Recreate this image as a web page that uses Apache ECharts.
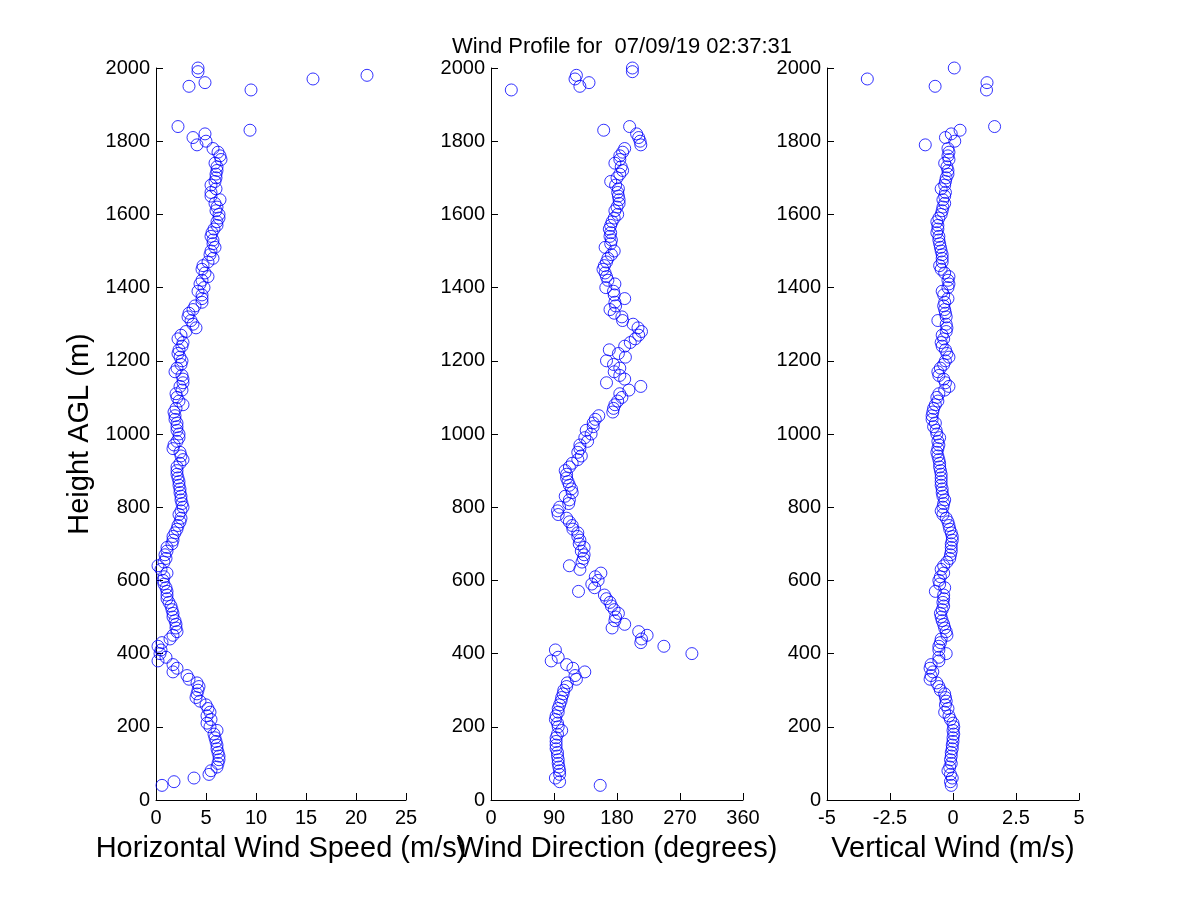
<!DOCTYPE html>
<html>
<head>
<meta charset="utf-8">
<script src="https://cdn.jsdelivr.net/npm/echarts@6/dist/echarts.min.js"></script>
<style>
  html, body { margin: 0; padding: 0; background: #fff; }
  #chart { width: 1200px; height: 900px; }
</style>
</head>
<body>
<div id="chart"></div>
<script>
// heights (m AGL), shared by all three panels
var heights = [
  40, 50, 60, 70, 80, 90,
  100, 110, 120, 130, 140, 150, 160, 170, 180, 190,
  200, 210, 220, 230, 240, 250, 260, 270, 280, 290,
  300, 310, 320, 330, 340, 350, 360, 370, 380, 390,
  400, 410, 420, 430, 440, 450, 460, 470, 480, 490,
  500, 510, 520, 530, 540, 550, 560, 570, 580, 590,
  600, 610, 620, 630, 640, 650, 660, 670, 680, 690,
  700, 710, 720, 730, 740, 750, 760, 770, 780, 790,
  800, 810, 820, 830, 840, 850, 860, 870, 880, 890,
  900, 910, 920, 930, 940, 950, 960, 970, 980, 990,
  1000, 1010, 1020, 1030, 1040, 1050, 1060, 1070, 1080, 1090,
  1100, 1110, 1120, 1130, 1140, 1150, 1160, 1170, 1180, 1190,
  1200, 1210, 1220, 1230, 1240, 1250, 1260, 1270, 1280, 1290,
  1300, 1310, 1320, 1330, 1340, 1350, 1360, 1370, 1380, 1390,
  1400, 1410, 1420, 1430, 1440, 1450, 1460, 1470, 1480, 1490,
  1500, 1510, 1520, 1530, 1540, 1550, 1560, 1570, 1580, 1590,
  1600, 1610, 1620, 1630, 1640, 1650, 1660, 1670, 1680, 1690,
  1700, 1710, 1720, 1730, 1740, 1750, 1760, 1770, 1780, 1790,
  1800, 1810, 1820, 1830, 1840,
  1940, 1950, 1960, 1970, 1980, 1990, 2000
];

// horizontal wind speed (m/s)
var windSpeed = [
  0.6, 1.8, 3.8, 5.3, 5.5, 6.1,
  6.2, 6.3, 6.3, 6.2, 6.1, 6.1, 6.0, 5.9, 5.8, 6.1,
  5.4, 5.1, 5.5, 5.1, 5.4, 5.2, 5.0, 4.4, 4.0, 4.1,
  4.2, 4.3, 4.1, 3.3, 3.1, 1.7, 2.1, 1.7, 0.2, 1.0,
  0.4, 0.5, 0.2, 0.6, 1.4, 1.7, 2.1, 2.0, 2.0, 1.9,
  1.7, 1.7, 1.6, 1.5, 1.3, 1.1, 1.1, 1.1, 1.0, 0.8,
  0.7, 0.8, 1.1, 0.5, 0.2, 0.8, 1.0, 0.9, 1.1, 1.1,
  1.6, 1.7, 1.7, 1.9, 2.1, 2.2, 2.4, 2.5, 2.3, 2.5,
  2.7, 2.6, 2.5, 2.5, 2.4, 2.4, 2.3, 2.3, 2.2, 2.1,
  2.1, 2.1, 2.4, 2.7, 2.5, 2.4, 1.7, 1.8, 2.1, 2.3,
  2.3, 2.1, 2.1, 2.1, 1.9, 1.9, 1.8, 2.0, 2.7, 2.3,
  2.1, 2.0, 2.6, 2.4, 2.7, 2.7, 2.6, 1.9, 2.1, 2.5,
  2.6, 2.4, 2.2, 2.3, 2.6, 2.7, 2.2, 2.5, 3.0, 4.0,
  3.7, 3.5, 3.2, 3.3, 3.7, 3.9, 4.6, 4.6, 4.6, 4.2,
  4.8, 4.4, 4.6, 5.2, 4.9, 4.6, 4.7, 5.2, 5.7, 5.4,
  5.5, 5.9, 5.7, 5.7, 5.5, 5.6, 5.8, 6.1, 6.1, 6.3,
  6.3, 6.0, 6.1, 5.9, 6.4, 5.5, 5.5, 6.0, 5.5, 5.9,
  6.0, 6.0, 6.1, 6.1, 5.9, 6.5, 6.4, 6.2, 5.7, 4.1,
  5.0, 3.7, 4.9, 9.4, 2.2,
  9.5, 3.3, 4.9, 15.7, 21.1, 4.2, 4.2
];

// wind direction (degrees)
var windDir = [
  156, 98, 92, 98, 98, 97,
  96, 96, 95, 95, 93, 93, 93, 93, 95, 101,
  96, 95, 92, 93, 96, 96, 98, 100, 101, 103,
  104, 108, 109, 122, 120, 134, 117, 108, 86, 96,
  287, 92, 247, 214, 215, 223, 211, 173, 191, 177,
  178, 182, 176, 172, 170, 165, 162, 125, 148, 144,
  153, 149, 157, 127, 112, 130, 132, 133, 129, 133,
  126, 127, 124, 124, 117, 116, 112, 108, 96, 95,
  98, 111, 112, 106, 116, 115, 112, 110, 108, 108,
  106, 112, 116, 124, 129, 124, 127, 127, 138, 134,
  143, 136, 146, 146, 149, 154, 174, 175, 177, 181,
  187, 184, 197, 214, 165, 191, 184, 176, 184, 175,
  165, 192, 182, 169, 191, 199, 206, 211, 215, 210,
  203, 188, 187, 176, 170, 178, 177, 191, 176, 175,
  164, 177, 167, 165, 163, 160, 162, 165, 167, 172,
  176, 163, 171, 172, 170, 171, 169, 171, 173, 176,
  181, 177, 180, 183, 183, 182, 181, 182, 178, 171,
  180, 184, 188, 186, 177, 184, 184, 188, 191, 214,
  213, 211, 208, 161, 198,
  29, 127, 140, 120, 122, 202, 202
];

// vertical wind (m/s), null = not drawn
var vertWind = [
  -0.07, -0.1, -0.03, -0.1, -0.2, -0.13,
  -0.07, -0.1, -0.07, -0.07, -0.03, -0.03, 0, 0, 0.03, 0,
  0.03, 0, -0.1, -0.16, -0.33, -0.2, -0.3, -0.27, -0.3, -0.33,
  -0.5, -0.56, -0.64, -0.91, -0.87, -0.8, -0.91, -0.87, -0.56, -0.56,
  -0.27, -0.56, -0.56, -0.5, -0.47, -0.24, -0.27, -0.33, -0.37, -0.43,
  -0.47, -0.5, -0.43, -0.37, -0.4, -0.37, -0.37, -0.7, -0.33, -0.53,
  -0.56, -0.5, -0.37, -0.47, -0.37, -0.24, -0.13, -0.1, -0.07, -0.07,
  -0.07, -0.03, -0.03, -0.07, -0.13, -0.16, -0.2, -0.27, -0.4, -0.47,
  -0.4, -0.37, -0.33, -0.4, -0.43, -0.43, -0.47, -0.47, -0.47, -0.47,
  -0.5, -0.53, -0.53, -0.56, -0.6, -0.64, -0.6, -0.56, -0.6, -0.53,
  -0.64, -0.67, -0.77, -0.7, -0.83, -0.83, -0.8, -0.77, -0.7, -0.6,
  -0.64, -0.56, -0.33, -0.16, -0.3, -0.37, -0.56, -0.6, -0.5, -0.37,
  -0.3, -0.16, -0.24, -0.3, -0.43, -0.47, -0.37, -0.43, -0.27, -0.24,
  -0.27, -0.6, -0.27, -0.3, -0.33, -0.37, -0.33, -0.2, -0.37, -0.43,
  -0.2, -0.16, -0.2, -0.16, -0.33, -0.47, -0.53, -0.43, -0.43, -0.43,
  -0.47, -0.5, -0.53, -0.56, -0.56, -0.64, -0.6, -0.6, -0.64, -0.56,
  -0.47, -0.43, -0.4, -0.33, -0.4, -0.33, -0.3, -0.47, -0.33, -0.3,
  -0.27, -0.2, -0.2, -0.24, -0.33, -0.16, -0.2, -0.16, -0.2, -1.1,
  0.07, -0.3, -0.07, 0.28, 1.65,
  1.33, -0.71, 1.35, -3.4, null, null, 0.05
];

var titleText = 'Wind Profile for  07/09/19 02:37:31';
var xNames = ['Horizontal Wind Speed (m/s)', 'Wind Direction (degrees)', 'Vertical Wind (m/s)'];
var yName = 'Height AGL (m)';

var FONT = '"Liberation Sans", Arial, Helvetica, sans-serif';

function pairs(vals) {
  var out = [];
  for (var i = 0; i < vals.length; i++) {
    if (vals[i] !== null) out.push([vals[i], heights[i]]);
  }
  return out;
}

// pixel boxes of the three panels: [left, right]
var panels = [[156, 406], [491, 743], [827, 1079]];
var xRanges = [
  { min: 0, max: 25, interval: 5 },
  { min: 0, max: 360, interval: 90 },
  { min: -5, max: 5, interval: 2.5 }
];

var axisLine = { show: true, onZero: false, lineStyle: { color: '#000', width: 1 } };
var axisTick = { show: true, inside: true, length: 7, lineStyle: { color: '#000' } };
var plain = function (v) { return String(v); };

var grids = [], xAxes = [], yAxes = [], series = [];
panels.forEach(function (p, i) {
  grids.push({ left: p[0], right: 1200 - p[1], top: 68, bottom: 100 });
  xAxes.push({
    gridIndex: i,
    type: 'value',
    min: xRanges[i].min,
    max: xRanges[i].max,
    interval: xRanges[i].interval,
    name: xNames[i],
    nameLocation: 'middle',
    nameGap: 34,
    nameTextStyle: { fontFamily: FONT, fontSize: 29, color: '#000' },
    axisLine: axisLine,
    axisTick: axisTick,
    splitLine: { show: false },
    axisLabel: { fontFamily: FONT, fontSize: 20, color: '#000', margin: 8, formatter: plain }
  });
  yAxes.push({
    gridIndex: i,
    type: 'value',
    min: 0,
    max: 2000,
    interval: 200,
    name: i === 0 ? yName : '',
    nameLocation: 'middle',
    nameRotate: 90,
    nameGap: 62,
    nameTextStyle: { fontFamily: FONT, fontSize: 29, color: '#000' },
    axisLine: axisLine,
    axisTick: axisTick,
    splitLine: { show: false },
    axisLabel: { fontFamily: FONT, fontSize: 20, color: '#000', margin: 6, formatter: plain }
  });
});

[windSpeed, windDir, vertWind].forEach(function (vals, i) {
  series.push({
    type: 'scatter',
    xAxisIndex: i,
    yAxisIndex: i,
    data: pairs(vals),
    symbol: 'circle',
    symbolSize: 12,
    itemStyle: { color: 'rgba(0,0,0,0)', borderColor: '#0000ff', borderWidth: 1 },
    emphasis: { disabled: true }
  });
});

var chart = echarts.init(document.getElementById('chart'));
chart.setOption({
  backgroundColor: '#fff',
  animation: false,
  title: {
    text: titleText,
    left: 617,
    top: 31,
    textAlign: 'center',
    textStyle: { fontFamily: FONT, fontSize: 22, fontWeight: 'normal', color: '#000' }
  },
  grid: grids,
  xAxis: xAxes,
  yAxis: yAxes,
  series: series
});
</script>
</body>
</html>
